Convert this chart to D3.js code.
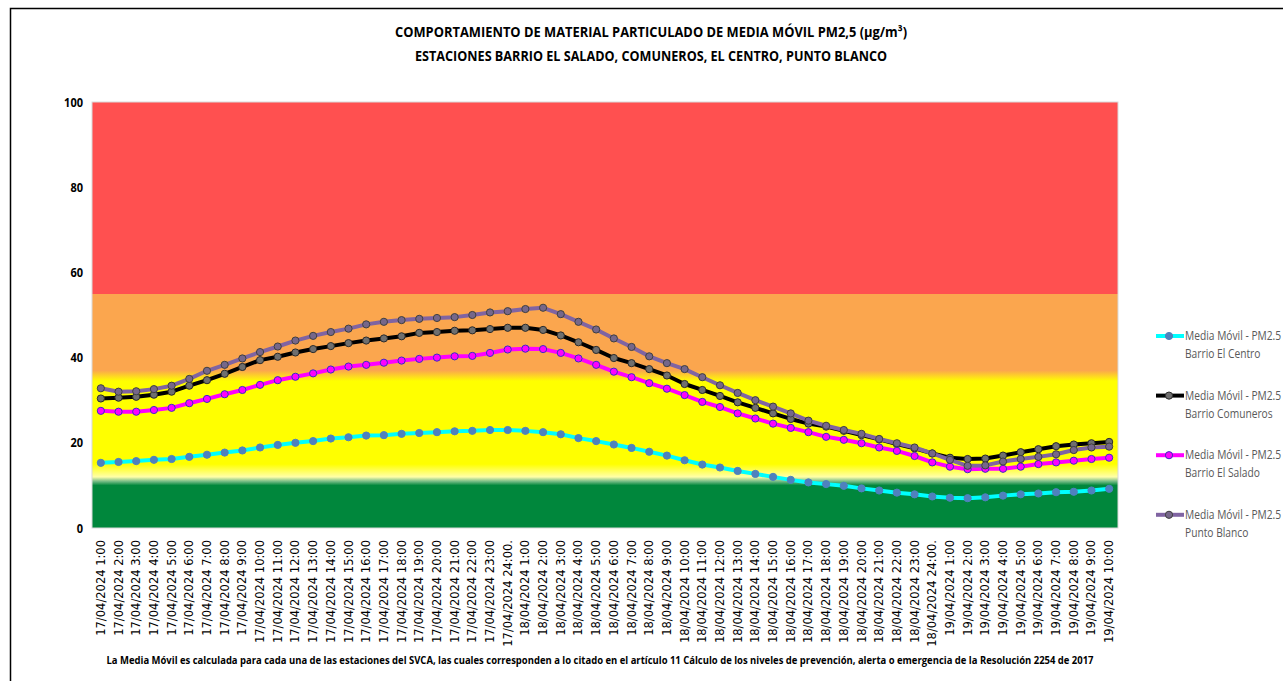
<!DOCTYPE html>
<html>
<head>
<meta charset="utf-8">
<script src="https://cdnjs.cloudflare.com/ajax/libs/d3/7.8.5/d3.min.js"></script>
<style>
  body { margin: 0; background: #fff; }
  #chart svg { display: block; }
</style>
</head>
<body>
<div id="chart"></div>
<script>
var categories = [
  "17/04/2024 1:00", "17/04/2024 2:00", "17/04/2024 3:00", "17/04/2024 4:00", "17/04/2024 5:00",
  "17/04/2024 6:00", "17/04/2024 7:00", "17/04/2024 8:00", "17/04/2024 9:00", "17/04/2024 10:00",
  "17/04/2024 11:00", "17/04/2024 12:00", "17/04/2024 13:00", "17/04/2024 14:00", "17/04/2024 15:00",
  "17/04/2024 16:00", "17/04/2024 17:00", "17/04/2024 18:00", "17/04/2024 19:00", "17/04/2024 20:00",
  "17/04/2024 21:00", "17/04/2024 22:00", "17/04/2024 23:00", "17/04/2024 24:00.",
  "18/04/2024 1:00", "18/04/2024 2:00", "18/04/2024 3:00", "18/04/2024 4:00", "18/04/2024 5:00",
  "18/04/2024 6:00", "18/04/2024 7:00", "18/04/2024 8:00", "18/04/2024 9:00", "18/04/2024 10:00",
  "18/04/2024 11:00", "18/04/2024 12:00", "18/04/2024 13:00", "18/04/2024 14:00", "18/04/2024 15:00",
  "18/04/2024 16:00", "18/04/2024 17:00", "18/04/2024 18:00", "18/04/2024 19:00", "18/04/2024 20:00",
  "18/04/2024 21:00", "18/04/2024 22:00", "18/04/2024 23:00", "18/04/2024 24:00.",
  "19/04/2024 1:00", "19/04/2024 2:00", "19/04/2024 3:00", "19/04/2024 4:00", "19/04/2024 5:00",
  "19/04/2024 6:00", "19/04/2024 7:00", "19/04/2024 8:00", "19/04/2024 9:00", "19/04/2024 10:00"
];

var elCentro = [
  15.3, 15.5, 15.7, 16.0, 16.2, 16.7, 17.2, 17.7, 18.2, 18.9, 19.5, 20.0, 20.4, 21.0, 21.3, 21.7,
  21.8, 22.1, 22.3, 22.5, 22.7, 22.8, 23.0, 23.0, 22.8, 22.5, 22.0, 21.1, 20.4, 19.6, 18.8, 17.9,
  17.0, 15.9, 14.9, 14.2, 13.4, 12.7, 12.0, 11.3, 10.7, 10.3, 9.9, 9.3, 8.8, 8.3, 7.9, 7.4,
  7.1, 7.0, 7.2, 7.6, 7.9, 8.1, 8.4, 8.5, 8.8, 9.2
];
var comuneros = [
  30.4, 30.6, 30.8, 31.3, 32.0, 33.4, 34.7, 36.2, 37.8, 39.4, 40.2, 41.2, 42.0, 42.7, 43.4, 44.0,
  44.5, 45.0, 45.8, 46.0, 46.3, 46.4, 46.7, 47.0, 47.0, 46.5, 45.2, 43.6, 41.8, 39.9, 38.7, 37.3,
  35.8, 33.8, 32.4, 31.0, 29.5, 28.2, 26.9, 25.6, 24.5, 23.8, 22.8, 21.8, 20.8, 19.7, 18.7, 17.5,
  16.5, 16.2, 16.3, 17.0, 17.8, 18.5, 19.2, 19.6, 19.9, 20.2
];
var elSalado = [
  27.5, 27.3, 27.3, 27.7, 28.2, 29.3, 30.3, 31.4, 32.4, 33.6, 34.7, 35.5, 36.3, 37.2, 37.9, 38.3,
  38.8, 39.3, 39.7, 40.0, 40.3, 40.4, 41.1, 41.9, 42.1, 42.0, 41.1, 39.8, 38.3, 36.7, 35.4, 34.0,
  32.7, 31.2, 29.6, 28.4, 26.9, 25.7, 24.5, 23.5, 22.5, 21.4, 20.7, 19.9, 18.9, 18.1, 16.9, 15.4,
  14.4, 13.8, 13.9, 13.9, 14.4, 15.0, 15.4, 15.8, 16.2, 16.5
];
var puntoBlanco = [
  32.8, 32.0, 32.1, 32.6, 33.4, 35.0, 36.9, 38.3, 39.8, 41.3, 42.6, 44.0, 45.1, 46.0, 46.8, 47.8,
  48.4, 48.8, 49.1, 49.3, 49.5, 50.0, 50.6, 50.9, 51.4, 51.7, 50.2, 48.4, 46.6, 44.5, 42.5, 40.3,
  38.7, 37.3, 35.4, 33.5, 31.7, 30.0, 28.5, 26.9, 25.2, 24.0, 23.0, 22.1, 20.9, 19.9, 18.9, 17.5,
  16.0, 14.6, 14.7, 15.6, 16.2, 16.7, 17.3, 18.3, 18.9, 19.1
];

var seriesNames = ["Barrio El Centro", "Barrio Comuneros", "Barrio El Salado", "Punto Blanco"];
var yTicks = [0, 20, 40, 60, 80, 100];

// background levels (value, colour) used as gradient stops
var bandValues = [100, 55, 55, 37, 34.5, 15, 12, 11, 10, 0];
var bandColors = ["#ff5050", "#ff5050", "#fba64e", "#fba64e", "#ffff00", "#ffff00", "#ffffa8", "#7cbf8a", "#00873c", "#00873c"];

var W = 1283, H = 681;
var plotLeft = 92, plotRight = 1118, plotTop = 102, plotBottom = 528;
var labelFont = "'Open Sans', 'Liberation Sans', sans-serif";

var svg = d3.select("#chart").append("svg")
  .attr("width", W)
  .attr("height", H);

// outer frame
svg.append("rect")
  .attr("x", 10.5).attr("y", 8.5)
  .attr("width", W).attr("height", H)
  .attr("fill", "none")
  .attr("stroke", "#000")
  .attr("stroke-width", 1.5);

var x = d3.scaleBand().domain(categories).range([plotLeft, plotRight]).padding(0);
var y = d3.scaleLinear().domain([0, 100]).range([plotBottom, plotTop]);
var cx = function(d, i) { return x(categories[i]) + x.bandwidth() / 2; };

// gradient for the alert levels
var grad = svg.append("defs").append("linearGradient")
  .attr("id", "levels")
  .attr("gradientUnits", "userSpaceOnUse")
  .attr("x1", 0).attr("x2", 0)
  .attr("y1", y(100)).attr("y2", y(0));

grad.selectAll("stop")
  .data(bandValues)
  .enter().append("stop")
  .attr("offset", function(d) { return (100 - d) / 100; })
  .attr("stop-color", function(d, i) { return bandColors[i]; });

svg.append("rect")
  .attr("x", plotLeft).attr("y", y(100))
  .attr("width", plotRight - plotLeft).attr("height", y(0) - y(100))
  .attr("fill", "url(#levels)")
  .attr("stroke", "#d9d9d9")
  .attr("stroke-width", 1);

// y axis
var yAxis = svg.append("g")
  .attr("transform", "translate(" + plotLeft + ",0)")
  .call(d3.axisLeft(y).tickValues(yTicks).tickSize(0).tickPadding(9));
yAxis.select(".domain").remove();
yAxis.selectAll(".tick text")
  .style("font-family", labelFont)
  .style("font-size", "12.5px")
  .style("font-weight", "bold")
  .attr("fill", "#000")
  .attr("textLength", function(d) { return String(d).length * 6.3; })
  .attr("lengthAdjust", "spacingAndGlyphs");

// x axis
var xAxis = svg.append("g")
  .attr("transform", "translate(0," + plotBottom + ")")
  .call(d3.axisBottom(x).tickSize(0));
xAxis.select(".domain").remove();
xAxis.selectAll("text")
  .attr("transform", "rotate(-90)")
  .attr("x", -12)
  .attr("y", 0)
  .attr("dy", "0.35em")
  .style("text-anchor", "end")
  .style("font-family", "'DejaVu Sans', Verdana, sans-serif")
  .style("font-size", "11.5px")
  .attr("fill", "#000");

// series
var series = [
  { name: seriesNames[0], values: elCentro, line: "#00ffff", fill: "#4f81bd", stroke: "#4f81bd" },
  { name: seriesNames[1], values: comuneros, line: "#000000", fill: "#6f6f6f", stroke: "#2b2b2b" },
  { name: seriesNames[2], values: elSalado, line: "#ff00ff", fill: "#ff00ff", stroke: "#3a2fc0" },
  { name: seriesNames[3], values: puntoBlanco, line: "#8064a2", fill: "#76678a", stroke: "#3f3f3f" }
];

var line = d3.line()
  .x(cx)
  .y(function(d) { return y(d); });

var layers = svg.selectAll("g.series")
  .data(series)
  .enter().append("g")
  .attr("class", "series");

layers.append("path")
  .attr("d", function(d) { return line(d.values); })
  .attr("fill", "none")
  .attr("stroke", function(d) { return d.line; })
  .attr("stroke-width", 4)
  .attr("stroke-linejoin", "round");

layers.each(function(s) {
  d3.select(this).selectAll("circle")
    .data(s.values)
    .enter().append("circle")
    .attr("cx", cx)
    .attr("cy", function(d) { return y(d); })
    .attr("r", 3.6)
    .attr("fill", s.fill)
    .attr("stroke", s.stroke)
    .attr("stroke-width", 1);
});

// legend
var legend = svg.selectAll("g.legend")
  .data(series)
  .enter().append("g")
  .attr("class", "legend")
  .attr("transform", function(d, i) { return "translate(1156," + (336 + i * 59.6) + ")"; });

legend.append("line")
  .attr("x1", 0).attr("x2", 28)
  .attr("y1", 0).attr("y2", 0)
  .attr("stroke", function(d) { return d.line; })
  .attr("stroke-width", 4);

legend.append("circle")
  .attr("cx", 13).attr("cy", 0).attr("r", 3.6)
  .attr("fill", function(d) { return d.fill; })
  .attr("stroke", function(d) { return d.stroke; });

var legendText = legend.append("g")
  .attr("transform", "translate(29,0) scale(0.84,1)");

legendText.append("text")
  .attr("x", 0).attr("y", 4)
  .style("font-family", labelFont)
  .style("font-size", "12.2px")
  .attr("fill", "#595959")
  .text("Media Móvil - PM2.5");

legendText.append("text")
  .attr("x", 0).attr("y", 22)
  .style("font-family", labelFont)
  .style("font-size", "12.2px")
  .attr("fill", "#595959")
  .text(function(d) { return d.name; });

// titles
svg.append("text")
  .attr("x", 651).attr("y", 37)
  .attr("text-anchor", "middle")
  .attr("textLength", 512)
  .attr("lengthAdjust", "spacingAndGlyphs")
  .style("font-family", labelFont)
  .style("font-size", "14px")
  .style("font-weight", "bold")
  .text("COMPORTAMIENTO DE MATERIAL PARTICULADO DE MEDIA MÓVIL PM2,5 (µg/m³)");

svg.append("text")
  .attr("x", 651).attr("y", 61)
  .attr("text-anchor", "middle")
  .attr("textLength", 472)
  .attr("lengthAdjust", "spacingAndGlyphs")
  .style("font-family", labelFont)
  .style("font-size", "14px")
  .style("font-weight", "bold")
  .text("ESTACIONES BARRIO EL SALADO, COMUNEROS, EL CENTRO, PUNTO BLANCO");

svg.append("text")
  .attr("x", 600).attr("y", 664)
  .attr("text-anchor", "middle")
  .attr("textLength", 987)
  .attr("lengthAdjust", "spacingAndGlyphs")
  .style("font-family", labelFont)
  .style("font-size", "11px")
  .style("font-weight", "bold")
  .text("La Media Móvil es calculada para cada una de las estaciones del SVCA, las cuales corresponden a lo citado en el artículo 11 Cálculo de los niveles de prevención, alerta o emergencia de la Resolución 2254 de 2017");
</script>
</body>
</html>
